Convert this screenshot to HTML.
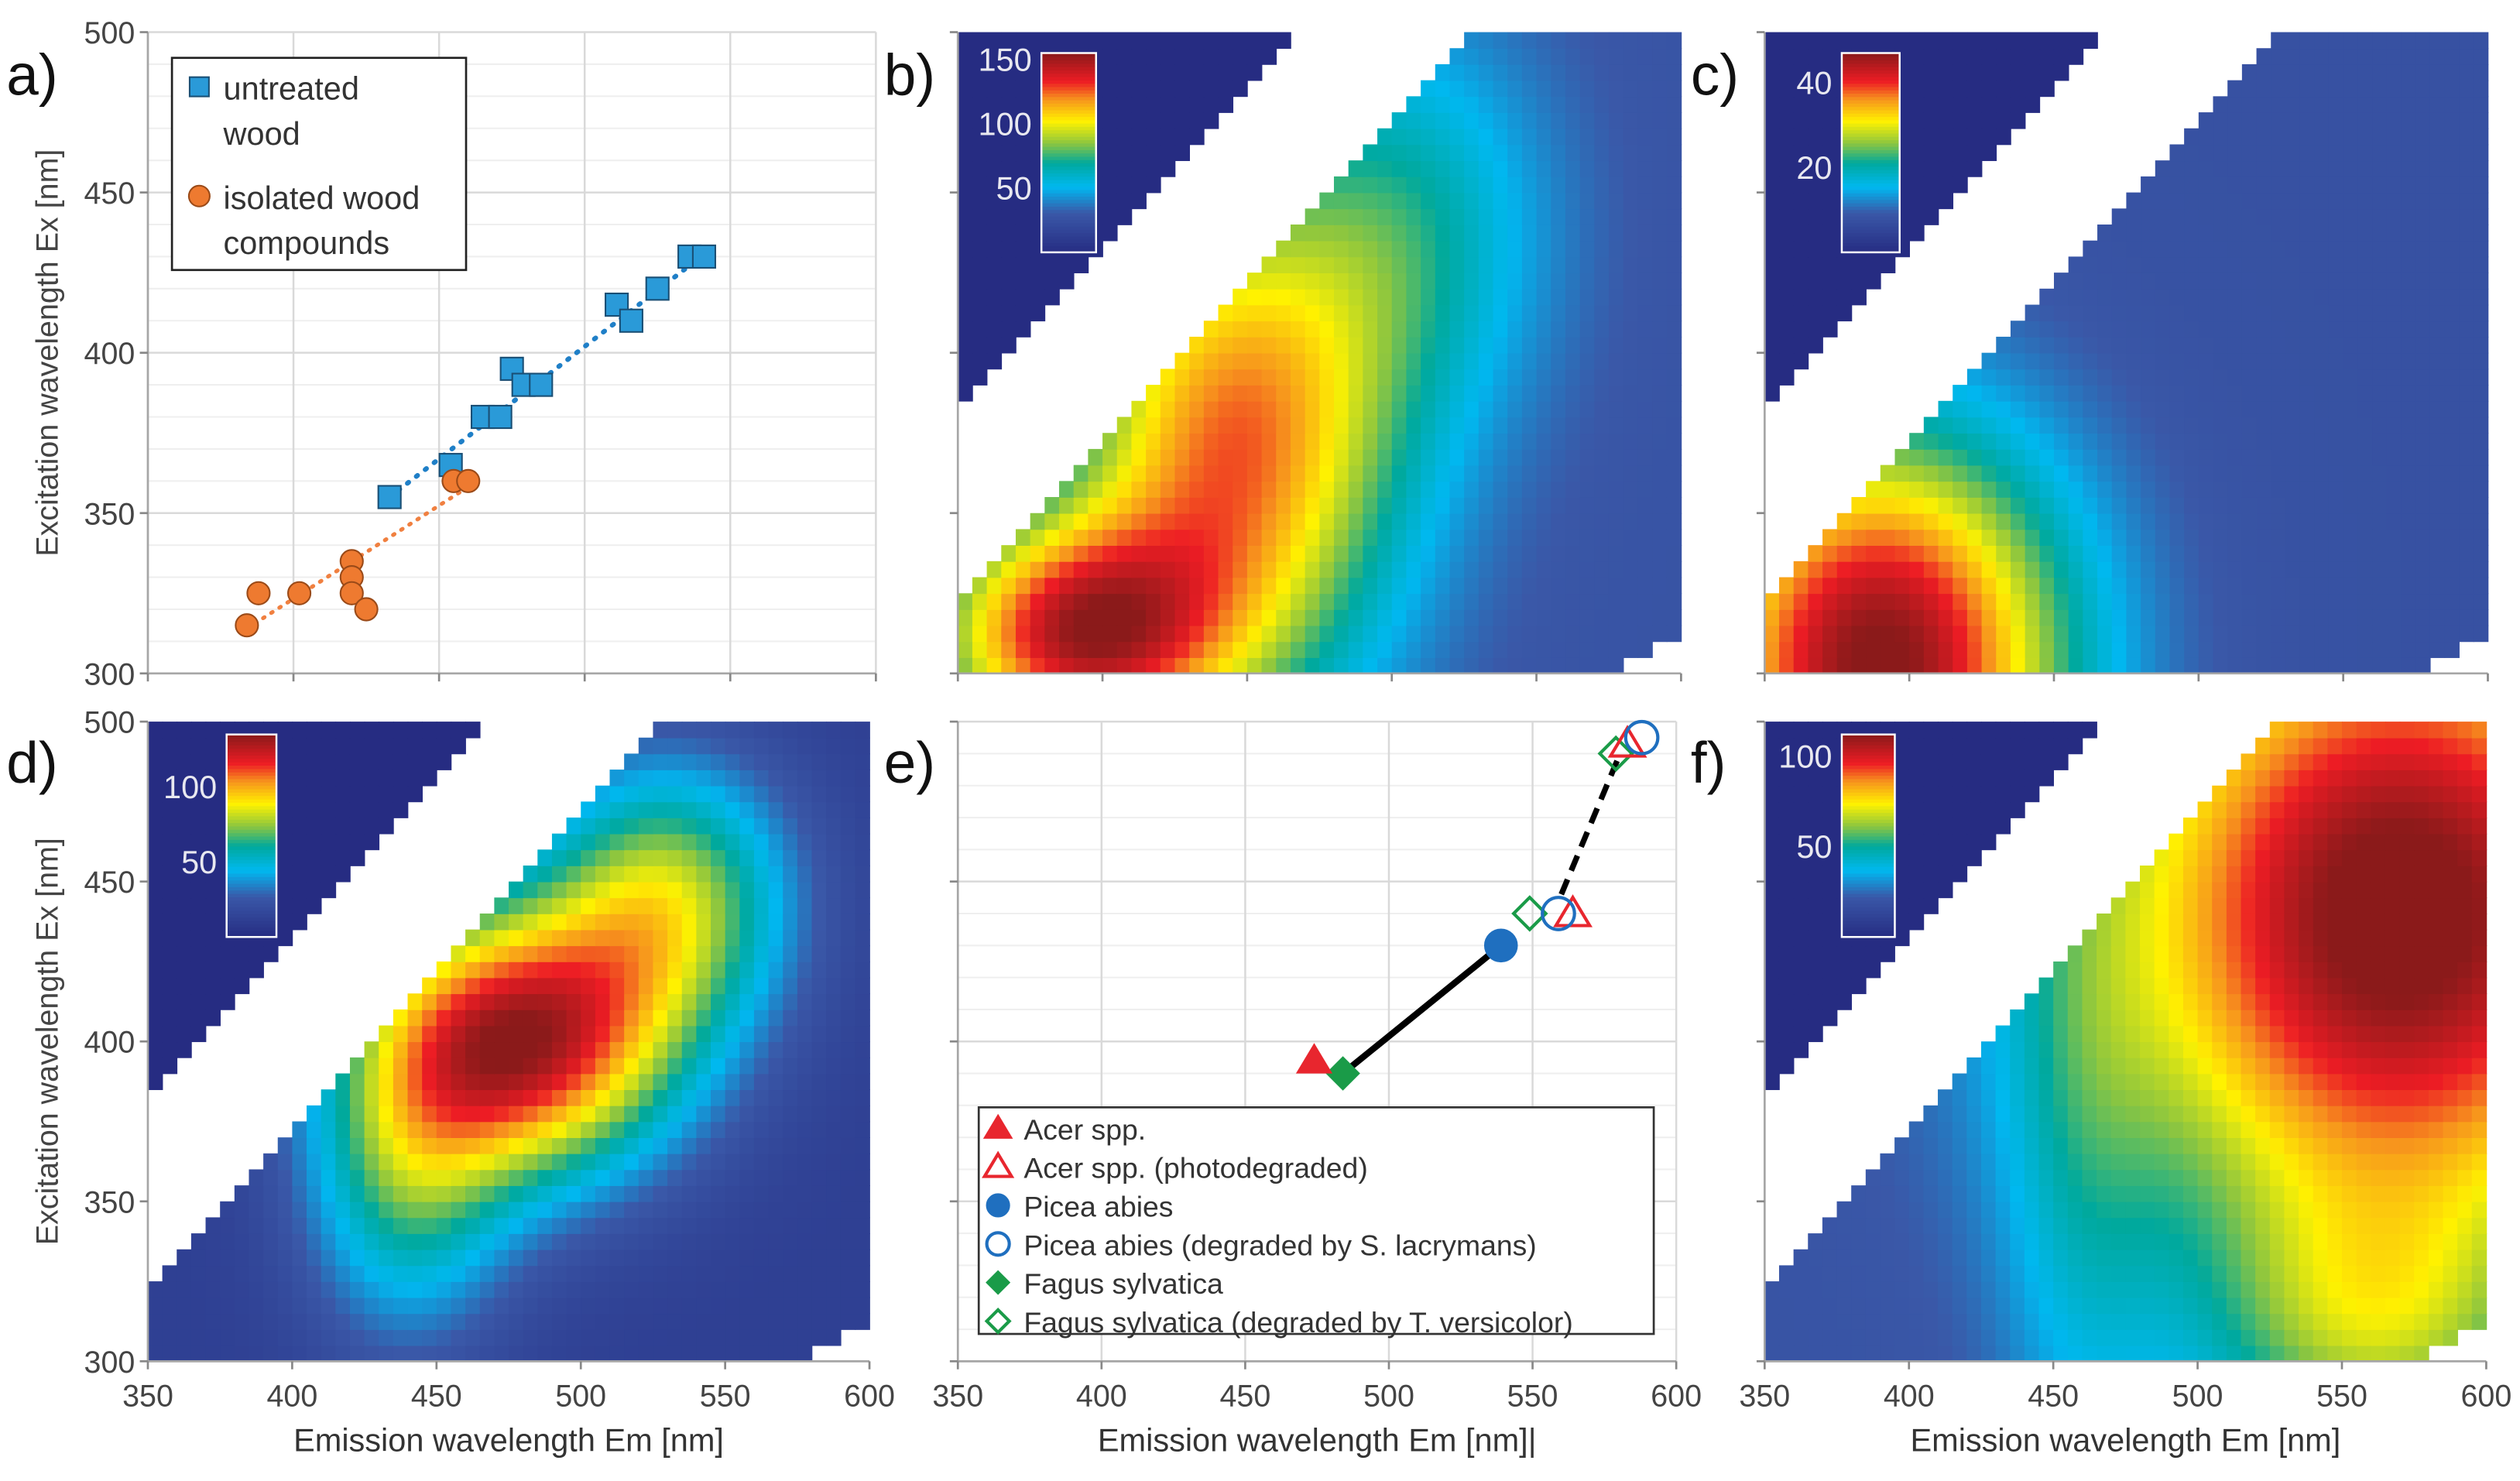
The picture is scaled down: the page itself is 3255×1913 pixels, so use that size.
<!DOCTYPE html>
<html><head><meta charset="utf-8"><style>
html,body{margin:0;padding:0;background:#fff}
svg{display:block}
text{font-family:"Liberation Sans","DejaVu Sans",sans-serif}
</style></head><body>
<svg id="fig" xmlns="http://www.w3.org/2000/svg" width="3255" height="1913" viewBox="0 0 1568 921.5" preserveAspectRatio="none">
<g id="grids"></g><g id="maps"></g><g id="marks"></g><g id="axes"></g><g id="labels"></g>
</svg>
<script>
// ---- data ----
const treatedEm=[433,454,465,471,475,479,485,511,516,525,536,541];
const treatedEx=[355,365,380,380,395,390,390,415,410,420,430,430];
const compEm=[384,388,402,420,420,420,425,455,460];
const compEx=[315,325,325,335,330,325,320,360,360];
const eNames=["Acer spp.","Acer spp. (photodegraded)","Picea abies","Picea abies (degraded by S. lacrymans)","Fagus sylvatica","Fagus sylvatica (degraded by T. versicolor)"];
const eEmA=[474,564,539,559,484,549]; const eExA=[394,440,430,440,390,440];
const eEmB=[null,583,null,588,null,579]; const eExB=[null,493,null,495,null,490];
const xTicks=[350,400,450,500,550,600]; const yTicks=[300,350,400,450,500];
// heatmap blobs: [em, ex, amplitude, sigmaEm, sigmaEx]
const blobsB=[[390,312,105,35,25],[445,370,95,40,55],[505,440,35,35,45]];
const baseB=[0,28]; const maxB=155;
const blobsC=[[390,303,40,45,50]];
const baseC=[0,8]; const maxC=47;
const blobsD=[[478,400,115,38,30],[530,445,65,30,30],[440,355,45,25,35]];
const baseD=[0,12]; const maxD=135;
const blobsF=[[570,440,98,72,75],[560,310,30,40,30],[460,360,15,20,80]];
const baseF=[0,20]; const maxF=112;

const NS="http://www.w3.org/2000/svg";
function el(tag,attrs,parent,txt){const e=document.createElementNS(NS,tag);for(const k in attrs)e.setAttribute(k,attrs[k]);if(txt!==undefined)e.textContent=txt;(parent||document.getElementById('axes')).appendChild(e);return e;}
const panels={a:[92,545,20,419],b:[596,1046,20,419],c:[1098,1548,20,419],d:[92,541,449,847],e:[596,1043,449,847],f:[1098,1547,449,847]};
function sx(p,v){const P=panels[p];return P[0]+(v-350)/250*(P[1]-P[0]);}
function sy(p,v){const P=panels[p];return P[3]-(v-300)/200*(P[3]-P[2]);}
const stops=[[0,[38,44,130]],[0.2,[58,88,168]],[0.33,[0,184,240]],[0.45,[0,169,157]],[0.55,[141,198,63]],[0.66,[255,242,0]],[0.77,[247,148,29]],[0.86,[237,28,36]],[1,[139,26,26]]];
function cmap(t){t=Math.max(0,Math.min(1,t));for(let i=1;i<stops.length;i++){if(t<=stops[i][0]){const a=stops[i-1],b=stops[i],f=(t-a[0])/(b[0]-a[0]);return 'rgb('+a[1].map((c,j)=>Math.round(c+(b[1][j]-c)*f)).join(',')+')';}}return 'rgb(139,26,26)';}

function heat(p,blobs,base,mx,upOff,loOff){
  const g=el('g',{},document.getElementById('maps'));
  
  
  for(let ex=300;ex<500;ex+=5){for(let em=350;em<600;em+=5){
    const cx=em+2.5,cy=ex+2.5;
    if(cy<cx+upOff&&cy>cx-loOff)continue;
    if(cx>2*cy-25)continue;
    let v;
    if(cy>=cx+upOff){v=base[0];}else{v=base[1];for(const b of blobs){v+=b[2]*Math.exp(-((cx-b[0])**2/(2*b[3]**2)+(cy-b[1])**2/(2*b[4]**2)));}}
    el('rect',{x:sx(p,em).toFixed(2),y:sy(p,ex+5).toFixed(2),width:(sx(p,em+5)-sx(p,em)+0.4).toFixed(2),height:(sy(p,ex)-sy(p,ex+5)+0.4).toFixed(2),fill:cmap(v/mx)},g);
  }}
}
heat('b',blobsB,baseB,maxB,33,28);
heat('c',blobsC,baseC,maxC,33,28);
heat('d',blobsD,baseD,maxD,35,28);
heat('f',blobsF,baseF,maxF,35,28);

function colorbar(p,x0,x1,y0,y1,maxv,ticks){
  const g=el('g',{},document.getElementById('maps'));
  
  
  for(let i=0;i<60;i++){const t=i/60;el('rect',{x:x0,y:y1-(i+1)/60*(y1-y0),width:x1-x0,height:(y1-y0)/60+0.5,fill:cmap(t+0.008)},g);}
  el('rect',{x:x0,y:y0,width:x1-x0,height:y1-y0,fill:'none',stroke:'#fff','stroke-width':1.2},g);
  ticks.forEach(t=>{el('text',{x:x0-6,y:y1-t/maxv*(y1-y0)+7,'text-anchor':'end','font-size':20,fill:'#e8e8f0'},g,String(t));});
}
colorbar('b',648,682,33,157,155,[150,100,50]);
colorbar('c',1146,1182,33,157,47,[40,20]);
colorbar('d',141,172,457,583,135,[100,50]);
colorbar('f',1146,1179,457,583,112,[100,50]);

function grid(p){
  const g=document.getElementById('grids');const P=panels[p];
  for(let v=310;v<500;v+=10){if(v%50)el('line',{x1:P[0],x2:P[1],y1:sy(p,v),y2:sy(p,v),stroke:'#efefef','stroke-width':1},g);}
  yTicks.forEach(v=>el('line',{x1:P[0],x2:P[1],y1:sy(p,v),y2:sy(p,v),stroke:'#d9d9d9','stroke-width':1.2},g));
  xTicks.forEach(v=>el('line',{x1:sx(p,v),x2:sx(p,v),y1:P[2],y2:P[3],stroke:'#d9d9d9','stroke-width':1.2},g));
}
grid('a');grid('e');

['a','b','c','d','e','f'].forEach(p=>{
  const P=panels[p];
  el('line',{x1:P[0],x2:P[0],y1:P[2],y2:P[3],stroke:'#a6a6a6','stroke-width':1.3});
  el('line',{x1:P[0],x2:P[1],y1:P[3],y2:P[3],stroke:'#a6a6a6','stroke-width':1.3});
  yTicks.forEach(v=>el('line',{x1:P[0]-5,x2:P[0],y1:sy(p,v),y2:sy(p,v),stroke:'#888','stroke-width':1.3}));
  xTicks.forEach(v=>el('line',{x1:sx(p,v),x2:sx(p,v),y1:P[3],y2:P[3]+5,stroke:'#888','stroke-width':1.3}));
});
const L=document.getElementById('labels');
['a','d'].forEach(p=>{yTicks.forEach(v=>{el('text',{x:panels[p][0]-8,y:sy(p,v)+7,'text-anchor':'end','font-size':19,fill:'#444'},L,String(v));});
 const cy=(panels[p][2]+panels[p][3])/2;
 const t=el('text',{x:36,y:cy,transform:'rotate(-90 36 '+cy+')','text-anchor':'middle','font-size':19,fill:'#444'},L,'Excitation wavelength Ex [nm]');
 
 });
['d','e','f'].forEach(p=>{xTicks.forEach(v=>{el('text',{x:sx(p,v),y:875,'text-anchor':'middle','font-size':19,fill:'#444'},L,String(v));});
 const t=el('text',{x:(panels[p][0]+panels[p][1])/2,y:903,'text-anchor':'middle','font-size':20,fill:'#333'},L,'Emission wavelength Em [nm]'+(p==='e'?'|':''));
 
 });
[['a)',4,59],['b)',550,59],['c)',1052,59],['d)',4,487],['e)',550,487],['f)',1052,487]].forEach(a=>{const t=el('text',{x:a[1],y:a[2],'font-size':36,fill:'#111'},L,a[0]);});

const M=document.getElementById('marks');
el('line',{x1:sx('a',433),y1:sy('a',355),x2:sx('a',540),y2:sy('a',430),stroke:'#1f7fc7','stroke-width':3,'stroke-dasharray':'1 6','stroke-linecap':'round'},M);
el('line',{x1:sx('a',384),y1:sy('a',314),x2:sx('a',458),y2:sy('a',357),stroke:'#f08040','stroke-width':2.5,'stroke-dasharray':'1 5','stroke-linecap':'round'},M);
treatedEm.forEach((v,i)=>{const r=el('rect',{x:sx('a',v)-7,y:sy('a',treatedEx[i])-7,width:14,height:14,fill:'#2a9ad8',stroke:'#1a4f75','stroke-width':1},M);});
compEm.forEach((v,i)=>{const c=el('circle',{cx:sx('a',v),cy:sy('a',compEx[i]),r:7,fill:'#ee7a30',stroke:'#9a4a18','stroke-width':1},M);});
const la=el('g',{},M);
el('rect',{x:107,y:36,width:183,height:132,fill:'#fff',stroke:'#222','stroke-width':1.3},la);
el('rect',{x:118,y:48,width:12,height:12,fill:'#2a9ad8',stroke:'#1a4f75'},la);
el('text',{x:139,y:62,'font-size':20,fill:'#333'},la,'untreated');
el('text',{x:139,y:90,'font-size':20,fill:'#333'},la,'wood');
el('circle',{cx:124,cy:122,r:6.5,fill:'#ee7a30',stroke:'#9a4a18'},la);
el('text',{x:139,y:130,'font-size':20,fill:'#333'},la,'isolated wood');
el('text',{x:139,y:158,'font-size':20,fill:'#333'},la,'compounds');

el('line',{x1:sx('e',eEmA[4]),y1:sy('e',eExA[4]),x2:sx('e',eEmA[2]),y2:sy('e',eExA[2]),stroke:'#000','stroke-width':4},M);
el('line',{x1:sx('e',560),y1:sy('e',446),x2:sx('e',580),y2:sy('e',489),stroke:'#000','stroke-width':3.5,'stroke-dasharray':'10 6'},M);
const colE=['#e8262e','#e8262e','#1f6fbf','#1f6fbf','#1a9b48','#1a9b48'];
function marker(k,x,y,s,g){const filled=k%2===0;const c=colE[k];const st={fill:filled?c:'none',stroke:c,'stroke-width':filled?1:2};
 if(k<2)return el('polygon',Object.assign({points:`${x},${y-s} ${x+s*1.05},${y+s*0.75} ${x-s*1.05},${y+s*0.75}`},st),g);
 if(k<4)return el('circle',Object.assign({cx:x,cy:y,r:s},st),g);
 return el('polygon',Object.assign({points:`${x},${y-s} ${x+s},${y} ${x},${y+s} ${x-s},${y}`},st),g);}
const order=[5,1,3,4,0,2];
order.forEach(k=>{const m1=marker(k,sx('e',eEmA[k]),sy('e',eExA[k]),10,M);
 if(eEmB[k]!==null){const m2=marker(k,sx('e',eEmB[k]),sy('e',eExB[k]),10,M);}});
const le=el('g',{},M);
el('rect',{x:609,y:689,width:420,height:141,fill:'#fff',stroke:'#333','stroke-width':1.3},le);
eNames.forEach((n,k)=>{const y=702+k*24;marker(k,621,y,k<2?8:7,le);el('text',{x:637,y:y+7,'font-size':18,fill:'#333'},le,n);});
</script>
</body></html>
